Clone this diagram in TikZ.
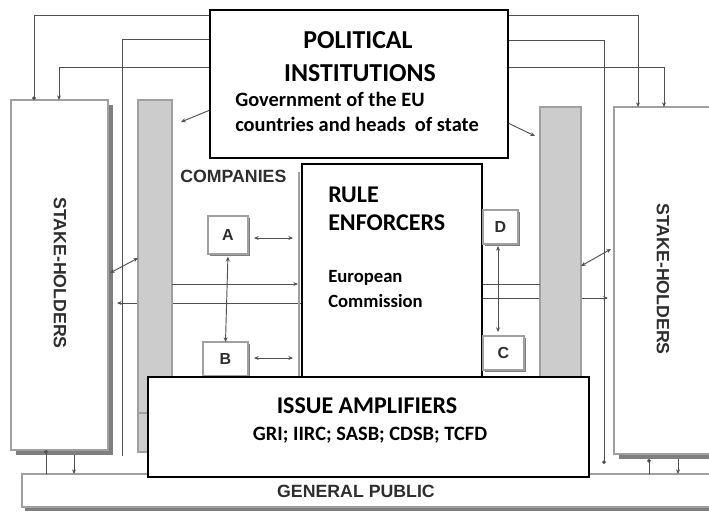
\documentclass[tikz,border=0pt]{standalone}
\usepackage{fontspec}
\setmainfont{Carlito}
\newfontfamily\arialfont{Liberation Sans}
\usetikzlibrary{arrows.meta,calc}
\definecolor{barfill}{HTML}{CCCCCC}
\definecolor{edgegray}{HTML}{A0A0A0}
\definecolor{shadowgray}{HTML}{7E7E7E}
\definecolor{linegray}{HTML}{505050}
\definecolor{labelgray}{HTML}{2E2E2E}
\newcommand\rectnode[6]{\node[#2,anchor=north west,minimum width={(#5-#3)*0.75pt},minimum height={(#6-#4)*0.75pt},inner sep=0pt,outer sep=0pt] (#1) at (#3,#4) {};}
\tikzset{
  blackbox/.style={draw=black,line width=1.1pt,fill=white},
  graybox/.style={draw=edgegray,line width=1.2pt,fill=white},
  smallbox/.style={draw=edgegray,line width=1pt,fill=white},
  barbox/.style={draw=edgegray,line width=0.9pt,fill=barfill},
  shadowbox/.style={fill=shadowgray,draw=none},
  conn/.style={draw=linegray,line width=0.7pt},
  dotend/.style={-{Circle[length=2.8pt]}},
  dotstart/.style={{Circle[length=2.8pt]}-},
  titletext/.style={font=\bfseries\fontsize{18}{22}\selectfont,text=black,inner sep=0pt},
  bigtitle/.style={font=\bfseries\fontsize{19.4}{23}\selectfont,text=black,inner sep=0pt},
  subtext/.style={font=\bfseries\fontsize{14}{17}\selectfont,text=black,inner sep=0pt},
  codetext/.style={font=\bfseries\fontsize{15.3}{18}\selectfont,text=black,inner sep=0pt},
  govtext/.style={font=\bfseries\fontsize{15.3}{18}\selectfont,text=black,inner sep=0pt},
  sanslabel/.style={font=\arialfont\bfseries\fontsize{13.3}{15}\selectfont,text=labelgray,inner sep=0pt},
  letterlabel/.style={font=\arialfont\bfseries\fontsize{12}{14}\selectfont,text=labelgray,inner sep=0pt},
  >={Stealth[length=3.5pt,width=3pt]}
}
\begin{document}
\begin{tikzpicture}[x=0.75pt,y=-0.75pt]
\useasboundingbox[fill=white] (0,0) rectangle (709,512);

% general public and stakeholders (with shadows)
\rectnode{gps}{shadowbox}{25}{478}{715}{511}
\rectnode{gp}{graybox}{22}{474}{712}{507}
\rectnode{lshs}{shadowbox}{16}{105}{113}{455}
\rectnode{lsh}{graybox}{11}{100}{108}{450}
\rectnode{rshs}{shadowbox}{619}{112}{717}{459}
\rectnode{rsh}{graybox}{614}{107}{712}{454}

% main boxes (placed first so connectors can refer to them; redrawn later)
\rectnode{pol}{blackbox}{210}{10}{508}{158}
\rectnode{rule}{blackbox}{302}{164}{482}{377}

% connectors from political institutions
\draw[conn,dotend] (pol.west |- 0,15) -| (34,0 |- lsh.north);
\coordinate (lend) at (122,456);
\draw[conn] (pol.west |- 0,39) -| (lend);
\draw[conn,->] (pol.west |- 0,67) -| (59,0 |- lsh.north);
\draw[conn,->] (pol.east |- 0,15) -| (638,0 |- rsh.north);
\coordinate (rend) at (604,464);
\draw[conn,dotend] (pol.east |- 0,40) -| (rend);
\draw[conn,->] (pol.east |- 0,67) -| (664,0 |- rsh.north);

% horizontal links through the company bars
\draw[conn,->] (rule.west |- 0,303) -- (117,303);
\draw[conn,->] (rule.east |- 0,298) -- (608,298);

% company bars
\rectnode{lbar}{barbox}{138}{100}{172}{452}
\rectnode{rbar}{barbox}{540}{107}{581}{378}
\draw[edgegray,line width=0.9pt] (lbar.west |- 0,413) -- (lbar.east |- 0,413);
\draw[edgegray,line width=0.9pt] (299,172) -- (299,377);

\draw[conn,->] (lbar.east |- 0,284) -- (298,284);
\draw[conn] (rule.east |- 0,284) -- (rbar.west |- 0,284);

% slanted links
\draw[conn,<->] (lbar.west |- 0,258) -- (110,273);
\draw[conn,<->] (rbar.east |- 0,266) -- (611,249);
\draw[conn,->] (pol.west |- 0,110) -- (181,122);
\draw[conn,->] (pol.east |- 0,123) -- (535,136);

% bottom links to general public
\draw[conn,dotstart] (46,0 |- lsh.south) -- (46,0 |- gp.north);
\draw[conn,->] (74,0 |- lshs.south) -- (74,0 |- gp.north);
\draw[conn,dotstart] (649,0 |- rshs.south) -- (649,0 |- gp.north);
\draw[conn,->] (678,0 |- rshs.south) -- (678,0 |- gp.north);

% political and rule boxes on top
\rectnode{pol2}{blackbox}{210}{10}{508}{158}
\rectnode{rule2}{blackbox}{302}{164}{482}{377}

% small company boxes
\rectnode{As}{shadowbox}{210}{218}{250}{256}
\rectnode{A}{smallbox}{208}{216}{248}{254}
\rectnode{Bs}{shadowbox}{205}{344}{250}{378}
\rectnode{B}{smallbox}{203}{342}{248}{376}
\rectnode{Ds}{shadowbox}{485}{212}{520}{246}
\rectnode{D}{smallbox}{483}{210}{518}{244}
\rectnode{Cs}{shadowbox}{485}{338}{526}{372}
\rectnode{C}{smallbox}{483}{336}{524}{370}
\node[letterlabel] (Al) at (A.center) {A};
\node[letterlabel] (Bl) at (B.center) {B};
\node[letterlabel] (Cl) at (C.center) {C};
\node[letterlabel] (Dl) at (D.center) {D};

\draw[conn,<->] ($(A.east)+(6,3)$) -- ($(rule.west |- A.east)+(-9,3)$);
\draw[conn,<->] ($(B.east)+(6,-1)$) -- ($(rule.west |- B.east)+(-9,-1)$);
\draw[conn,<->,shorten <=2pt] (A.south) -- (B.north);
\draw[conn,<->] ($(D.south)+(-2.5,2)$) -- ($(D.south |- C.north)+(-2.5,-4)$);

% issue amplifiers
\rectnode{amp}{blackbox}{148}{377}{589}{477}

% texts
\node[bigtitle,anchor=base] (t1) at (358,48) {POLITICAL};
\node[bigtitle,anchor=base] (t2) at (360,81) {INSTITUTIONS};
\node[govtext,anchor=base west] (g1) at (235,106) {Government of the EU};
\node[govtext,anchor=base west] (g2) at (235,131) {countries and heads\ \ of state};
\node[titletext,anchor=base west] (r1) at (328,202) {RULE};
\node[titletext,anchor=base west] (r2) at (328,230) {ENFORCERS};
\node[subtext,anchor=base west] (r3) at (328,282) {European};
\node[subtext,anchor=base west] (r4) at (328,307) {Commission};
\node[titletext,anchor=base] (i1) at (367,413) {ISSUE AMPLIFIERS};
\node[codetext,anchor=base] (i2) at (370,440) {GRI; IIRC; SASB; CDSB; TCFD};
\node[sanslabel,anchor=base west] (comp) at (180,182) {COMPANIES};
\node[sanslabel,anchor=base] (gpl) at (356,497) {GENERAL PUBLIC};
\node[sanslabel,rotate=-90] (lshl) at (60,273) {STAKE-HOLDERS};
\node[sanslabel,rotate=-90] (rshl) at (663,279) {STAKE-HOLDERS};
\end{tikzpicture}
\end{document}
